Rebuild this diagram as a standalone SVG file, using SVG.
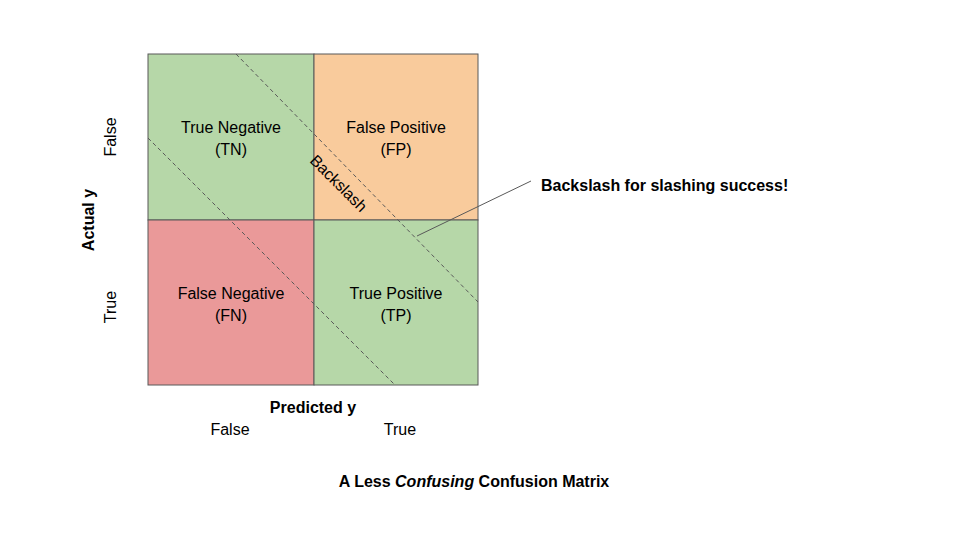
<svg xmlns="http://www.w3.org/2000/svg" width="960" height="540" viewBox="0 0 960 540">
<style>
text{font-family:"Liberation Sans",Arial,sans-serif;fill:#000}
.c{font-size:16px;text-anchor:middle}
.cell{stroke:#595959;stroke-width:1}
.dash{stroke:#595959;stroke-width:1;stroke-dasharray:4,3;fill:none}
.b{font-weight:bold}
</style>
<rect width="960" height="540" fill="#fff"/>
<g id="tn"><rect class="cell" x="148" y="54" width="166" height="166" fill="#b6d7a8"/><text class="c" x="231" y="133">True Negative</text><text class="c" x="231" y="155">(TN)</text></g>
<g id="fp"><rect class="cell" x="314" y="54" width="164" height="166" fill="#f9cb9c"/><text class="c" x="396" y="133">False Positive</text><text class="c" x="396" y="155">(FP)</text></g>
<g id="fn"><rect class="cell" x="148" y="220" width="166" height="165" fill="#ea9999"/><text class="c" x="231" y="299">False Negative</text><text class="c" x="231" y="321">(FN)</text></g>
<g id="tp"><rect class="cell" x="314" y="220" width="164" height="165" fill="#b6d7a8"/><text class="c" x="396" y="299">True Positive</text><text class="c" x="396" y="321">(TP)</text></g>
<g id="connectors">
<line class="dash" x1="236" y1="54" x2="478" y2="302"/>
<line class="dash" x1="148" y1="138" x2="395" y2="385"/>
<line x1="417" y1="236" x2="531" y2="181" stroke="#595959" stroke-width="1"/>
</g>
<text class="c" transform="translate(339,183) rotate(45)" y="6">Backslash</text>
<text class="b" x="541" y="191" font-size="16">Backslash for slashing success!</text>
<text class="c b" transform="translate(94,220) rotate(-90)" y="0">Actual y</text>
<text class="c" transform="translate(116,137) rotate(-90)">False</text>
<text class="c" transform="translate(116,307) rotate(-90)">True</text>
<text class="c b" x="313" y="413">Predicted y</text>
<text class="c" x="230" y="435">False</text>
<text class="c" x="400" y="435">True</text>
<text class="c b" x="474" y="487" font-size="22">A Less <tspan font-style="italic">Confusing</tspan> Confusion Matrix</text>
</svg>
